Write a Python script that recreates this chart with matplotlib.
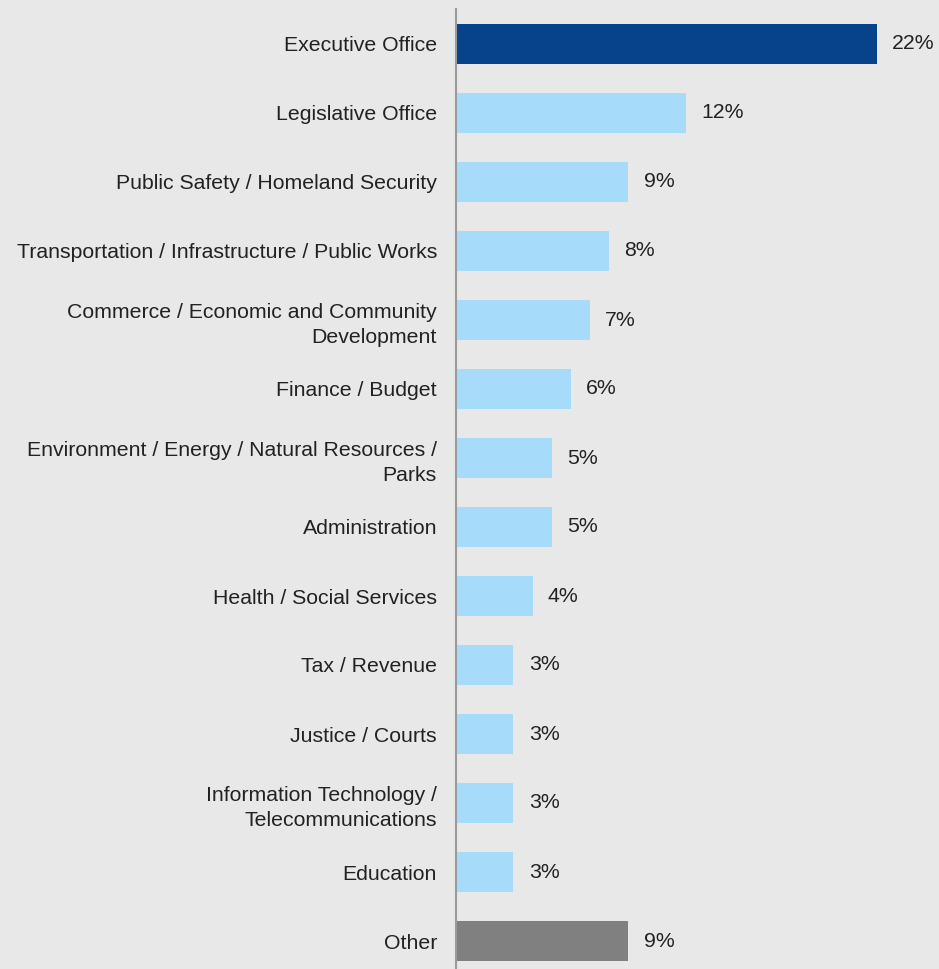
import numpy as np
import matplotlib.pyplot as plt

plt.rcParams['font.family'] = ['Liberation Sans', 'DejaVu Sans']

categories = [
    "Executive Office",
    "Legislative Office",
    "Public Safety / Homeland Security",
    "Transportation / Infrastructure / Public Works",
    "Commerce / Economic and Community\nDevelopment",
    "Finance / Budget",
    "Environment / Energy / Natural Resources /\nParks",
    "Administration",
    "Health / Social Services",
    "Tax / Revenue",
    "Justice / Courts",
    "Information Technology /\nTelecommunications",
    "Education",
    "Other",
]
shares = [22, 12, 9, 8, 7, 6, 5, 5, 4, 3, 3, 3, 3, 9]

bg = "#e8e8e8"
colors = ["#07438a"] + ["#a6dcf9"] * 12 + ["#808080"]

W, H = 939, 969
fig = plt.figure(figsize=(W / 100, H / 100), dpi=100, facecolor=bg)
ax = fig.add_axes([456 / W, 0, (W - 456) / W, 960 / H], facecolor=bg)

y = np.arange(len(categories))
ax.barh(y, shares, height=0.58, color=colors, zorder=2)

# percentage labels just past the end of each bar
for yi, v in zip(y, shares):
    ax.annotate(f"{v}%", (v, yi), xytext=(11, 0), textcoords="offset points",
                va="center", ha="left", fontsize=15.3, color="#222222")

ax.set_yticks(y)
ax.set_yticklabels(categories, fontsize=15.3, color="#222222", linespacing=1.4)
ax.tick_params(axis="y", length=0, pad=13.7)
ax.set_xticks([])

ax.set_xlim(0, (W - 456) / 19.14)
ax.set_ylim(len(categories) - 1 + 28 / 69, -35 / 69)

for s in ["top", "right", "bottom"]:
    ax.spines[s].set_visible(False)
ax.spines["left"].set_color("#9a9a9a")
ax.spines["left"].set_linewidth(1.5)

fig.savefig("out.png", dpi=100, facecolor=bg)
